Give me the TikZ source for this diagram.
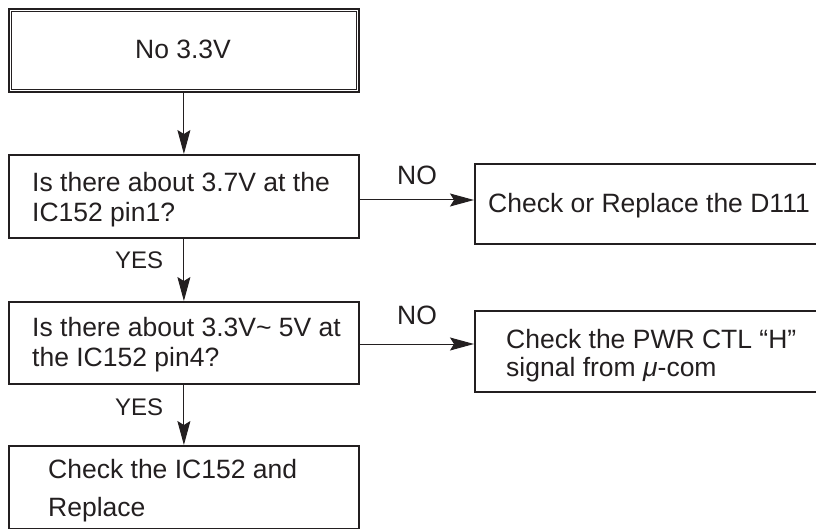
\documentclass[tikz,border=0pt]{standalone}
\usepackage{fontspec}
\setmainfont{Liberation Sans}
\usetikzlibrary{arrows.meta}
\definecolor{ink}{HTML}{231F20}
\begin{document}
\begin{tikzpicture}[x=1pt,y=-1pt,
  box/.style={draw=ink,line width=1.8pt,rectangle,inner sep=0pt,anchor=north west},
  txt/.style={anchor=base west,inner sep=0pt,text=ink,font=\fontsize{26.5}{30}\selectfont},
  lbl/.style={anchor=base west,inner sep=0pt,text=ink,font=\fontsize{24}{28}\selectfont},
  conn/.style={draw=ink,line width=1pt,-{Stealth[length=24pt,width=13pt,inset=4pt]}}]
\useasboundingbox (0,0) rectangle (816,529);
\clip (0,0) rectangle (816,529);
% boxes
\node[box,minimum width=350pt,minimum height=83pt] (start) at (8,8) {};
\draw[ink,line width=0.9pt] ([shift={(3.5pt,-3.5pt)}]start.north west) rectangle ([shift={(-3.5pt,3.5pt)}]start.south east);
\node[box,minimum width=350pt,minimum height=83pt] (q1) at (8,154) {};
\node[box,minimum width=350pt,minimum height=82pt] (q2) at (8,301) {};
\node[box,minimum width=350pt,minimum height=83pt] (fin) at (8,445) {};
\node[box,minimum width=360pt,minimum height=80pt] (r1) at (474,163) {};
\node[box,minimum width=360pt,minimum height=81pt] (r2) at (474,310) {};
% texts
\node[txt,anchor=base] (tstart) at (183,59) {No 3.3V};
\node[txt] (tq1a) at (32,192) {Is there about 3.7V at the};
\node[txt] (tq1b) at (32,222) {IC152 pin1?};
\node[txt] (tq2a) at (32,336) {Is there about 3.3V\char"7E\ 5V at};
\node[txt] (tq2b) at (32,366) {the IC152 pin4?};
\node[txt] (tfa) at (48,478) {Check the IC152 and};
\node[txt] (tfb) at (48,516) {Replace};
\node[txt] (tr1) at (488,213) {Check or Replace the D111};
\node[txt] (tr2a) at (506,348) {Check the PWR CTL “H”};
\node[txt] (tr2b) at (506,376) {signal from {\itshape μ}-com};
\node[txt] (no1) at (397,185) {NO};
\node[txt] (no2) at (397,324) {NO};
\node[lbl] (yes1) at (115,269) {YES};
\node[lbl] (yes2) at (115,415) {YES};
% connectors
\draw[conn] (start.south) -- (q1.north);
\draw[conn] (q1.south) -- (q2.north);
\draw[conn] (q2.south) -- (fin.north);
\draw[conn] (q1.east |- 0,200) -- (r1.west |- 0,200);
\draw[conn] (q2.east |- 0,344) -- (r2.west |- 0,344);
\end{tikzpicture}
\end{document}
